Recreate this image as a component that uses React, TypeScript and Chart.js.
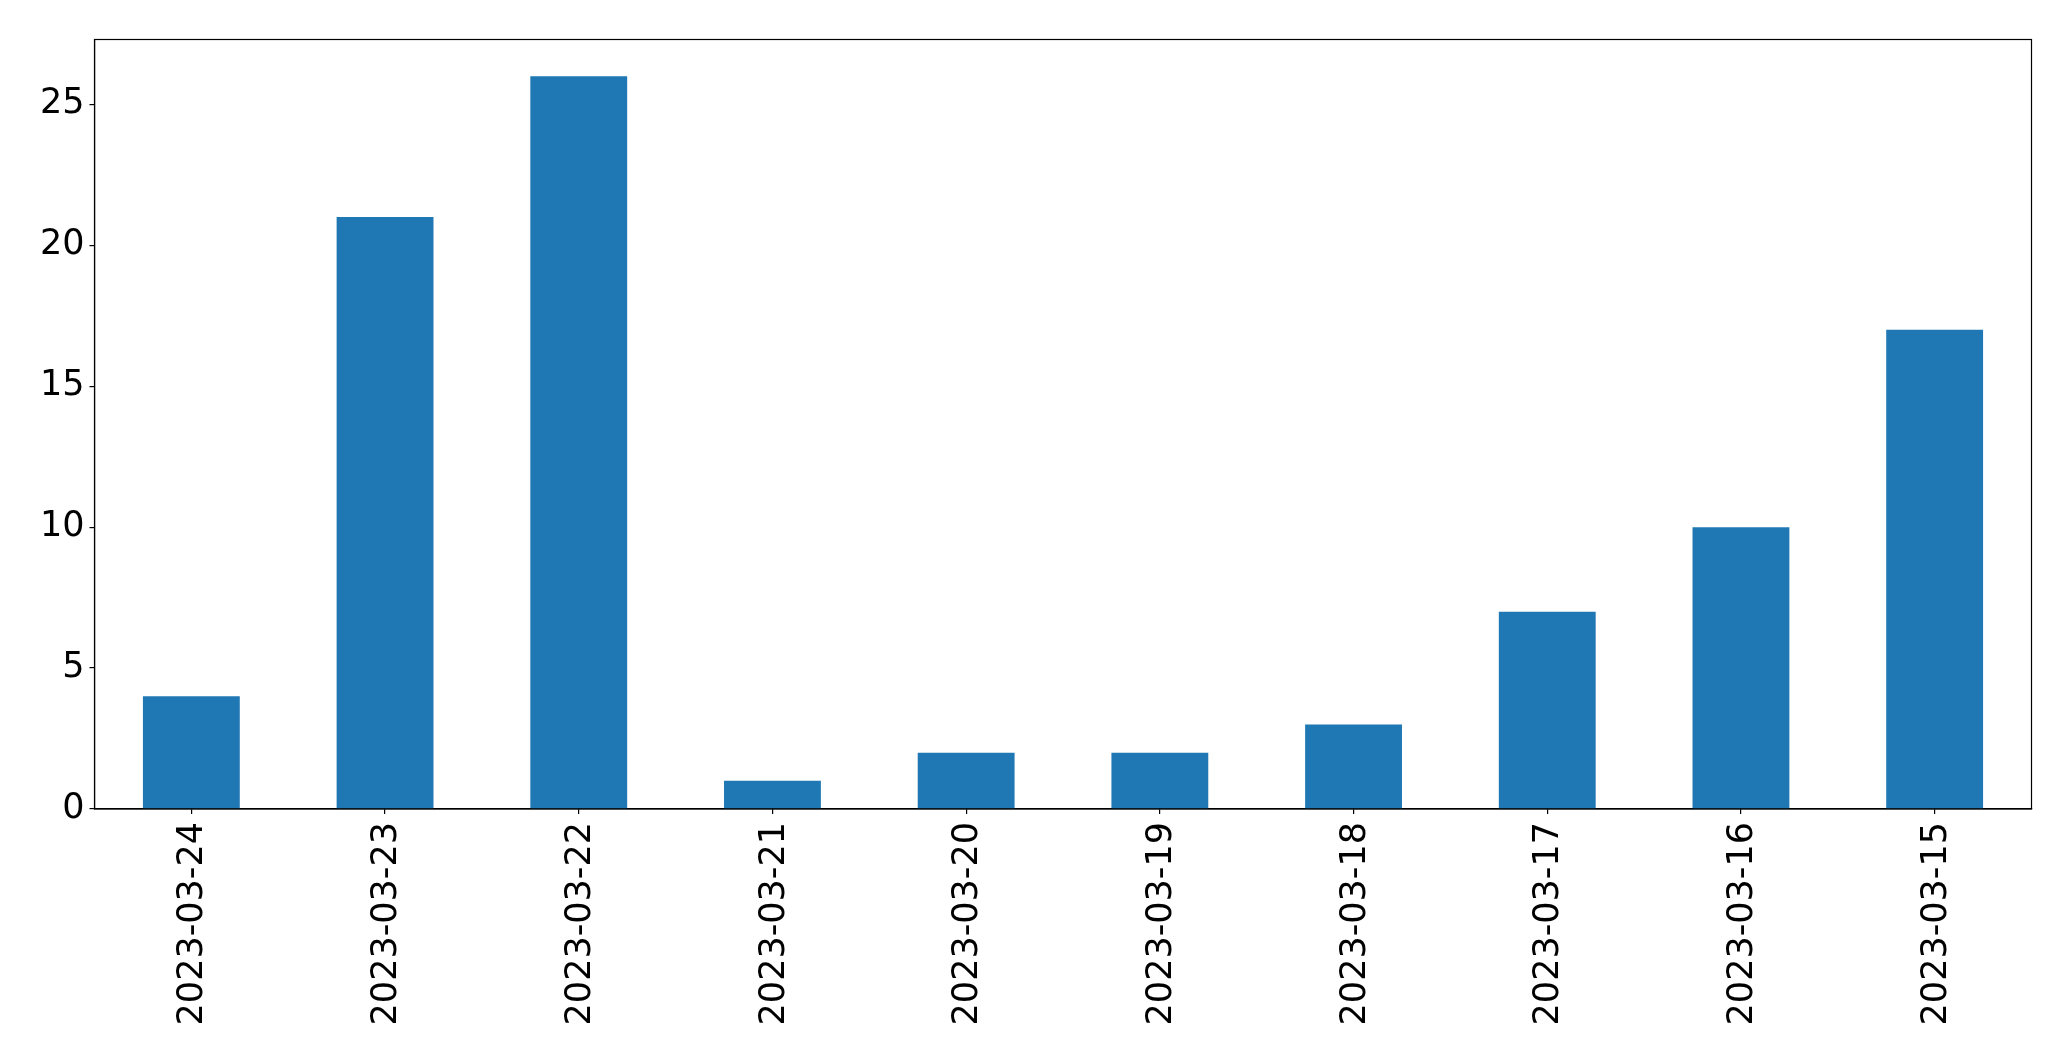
import React, { useEffect, useRef } from "react";
import { Chart, registerables } from "chart.js";

Chart.register(...registerables);

const categories = [
  "2023-03-24",
  "2023-03-23",
  "2023-03-22",
  "2023-03-21",
  "2023-03-20",
  "2023-03-19",
  "2023-03-18",
  "2023-03-17",
  "2023-03-16",
  "2023-03-15",
];
const counts = [4, 21, 26, 1, 2, 2, 3, 7, 10, 17];
const yTicks = [0, 5, 10, 15, 20, 25];
const yMax = 27.3;

const W = 2071;
const H = 1061;
const LEFT = 94.5;
const TOP = 39.5;
const RIGHT = 2031.5;
const BOTTOM = 809;

const frame = {
  id: "frame",
  afterDatasetsDraw(chart: any) {
    const { ctx, chartArea } = chart;
    ctx.save();
    ctx.strokeStyle = "#000";
    ctx.lineWidth = 1.2;
    ctx.strokeRect(chartArea.left, chartArea.top, chartArea.right - chartArea.left, chartArea.bottom - chartArea.top);
    ctx.restore();
  },
};

export default function App() {
  const ref = useRef<HTMLCanvasElement | null>(null);
  useEffect(() => {
    if (!ref.current) return;
    const font = { family: "'DejaVu Sans'", size: 35 };
    const chart = new Chart(ref.current, {
      type: "bar",
      data: {
        labels: categories,
        datasets: [
          {
            data: counts,
            backgroundColor: "#1f77b4",
            borderWidth: 0,
            barPercentage: 0.5,
            categoryPercentage: 1,
          },
        ],
      },
      plugins: [frame],
      options: {
        responsive: false,
        animation: false,
        devicePixelRatio: 1,
        layout: { padding: { top: TOP, right: W - RIGHT, left: 0, bottom: 0 } },
        plugins: { legend: { display: false }, tooltip: { enabled: false } },
        scales: {
          x: {
            offset: true,
            grid: { display: true, drawOnChartArea: false, drawTicks: true, tickLength: 5, color: "#000", lineWidth: 1.2, offset: false },
            border: { display: true, color: "#000", width: 1.2 },
            ticks: { font, color: "#000", minRotation: 90, maxRotation: 90, padding: 8, autoSkip: false, labelOffset: 2 },
            afterFit: (s: any) => {
              s.height = H - BOTTOM;
            },
          },
          y: {
            min: 0,
            max: yMax,
            grid: { display: true, drawOnChartArea: false, drawTicks: true, tickLength: 5, color: "#000", lineWidth: 1.2 },
            border: { display: true, color: "#000", width: 1.2 },
            ticks: { font, color: "#000", padding: 5 },
            afterBuildTicks: (s: any) => {
              s.ticks = yTicks.map((v) => ({ value: v }));
            },
            afterFit: (s: any) => {
              s.width = LEFT;
            },
          },
        },
      },
    });
    return () => chart.destroy();
  }, []);
  return (
    <div style={{ position: "fixed", left: 0, top: 0, width: W, height: H, background: "#fff" }}>
      <canvas ref={ref} width={W} height={H} style={{ width: W, height: H, display: "block" }} />
    </div>
  );
}
